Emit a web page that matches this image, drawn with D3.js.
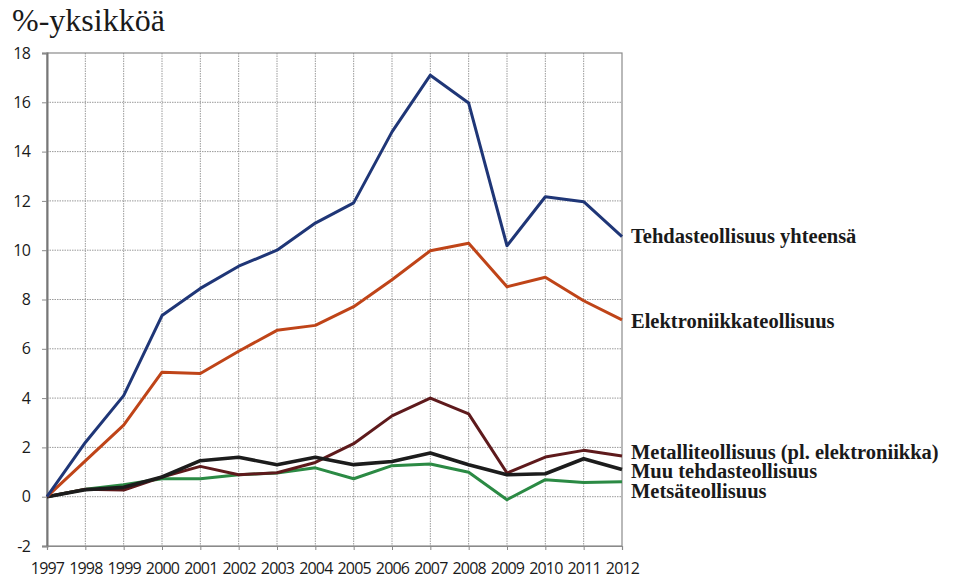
<!DOCTYPE html>
<html>
<head>
<meta charset="utf-8">
<script src="https://cdn.jsdelivr.net/npm/d3@7"></script>
<style>
  body { margin: 0; background: #fff; }
</style>
</head>
<body>
<div id="chart"></div>
<script>
const years = [1997, 1998, 1999, 2000, 2001, 2002, 2003, 2004, 2005, 2006, 2007, 2008, 2009, 2010, 2011, 2012];
const yTicks = [-2, 0, 2, 4, 6, 8, 10, 12, 14, 16, 18];

const tehdas = [0, 2.2, 4.1, 7.35, 8.45, 9.35, 10.0, 11.1, 11.92, 14.8, 17.1, 15.97, 10.18, 12.17, 11.97, 10.55];
const elektro = [0, 1.45, 2.9, 5.05, 5.0, 5.9, 6.75, 6.95, 7.71, 8.8, 9.98, 10.28, 8.52, 8.9, 7.95, 7.17];
const metalli = [0, 0.3, 0.27, 0.8, 1.23, 0.89, 0.97, 1.39, 2.15, 3.28, 4.0, 3.36, 0.96, 1.61, 1.88, 1.65];
const muu = [0, 0.28, 0.38, 0.8, 1.46, 1.6, 1.3, 1.6, 1.3, 1.43, 1.77, 1.3, 0.89, 0.93, 1.54, 1.1];
const metsa = [0, 0.3, 0.49, 0.73, 0.73, 0.89, 0.96, 1.17, 0.73, 1.26, 1.33, 0.99, -0.12, 0.69, 0.58, 0.61];

const seriesNames = ["Metsäteollisuus", "Metalliteollisuus (pl. elektroniikka)", "Muu tehdasteollisuus", "Elektroniikkateollisuus", "Tehdasteollisuus yhteensä"];
const seriesValues = [metsa, metalli, muu, elektro, tehdas];
const seriesColors = ["#2b8a44", "#5e1a1c", "#1c1c1c", "#bf4418", "#1f3677"];
const seriesWidths = [3, 3, 3.6, 3, 3];
const labelY = [490.5, 451.5, 471, 321, 236];

const width = 956, height = 578;
const margin = {top: 53, right: 334, bottom: 32, left: 47};

const svg = d3.select("#chart").append("svg")
  .attr("width", width)
  .attr("height", height);

const x = d3.scaleLinear().domain([1997, 2012]).range([margin.left, width - margin.right]);
const y = d3.scaleLinear().domain([-2, 18]).range([height - margin.bottom, margin.top]);

// dotted grid
svg.append("g")
  .selectAll("line")
  .data(years.slice(1, -1))
  .join("line")
  .attr("x1", d => x(d)).attr("x2", d => x(d))
  .attr("y1", y(18)).attr("y2", y(-2))
  .attr("stroke", "#9a9a9a")
  .attr("stroke-width", 1)
  .attr("stroke-dasharray", "1.5,1");

svg.append("g")
  .selectAll("line")
  .data(yTicks.slice(1, -1))
  .join("line")
  .attr("x1", x(1997)).attr("x2", x(2012))
  .attr("y1", d => y(d)).attr("y2", d => y(d))
  .attr("stroke", "#9a9a9a")
  .attr("stroke-width", 1)
  .attr("stroke-dasharray", "1.5,1");

// frame
svg.append("rect")
  .attr("x", x(1997)).attr("y", y(18))
  .attr("width", x(2012) - x(1997))
  .attr("height", y(-2) - y(18))
  .attr("fill", "none")
  .attr("stroke", "#8a8a8a")
  .attr("stroke-width", 1.2);

const tickFont = "'Open Sans', 'DejaVu Sans', sans-serif";

// axes
const yAxis = svg.append("g")
  .attr("transform", `translate(${x(1997)},0)`)
  .call(d3.axisLeft(y).tickValues(yTicks).tickFormat(d => String(d)).tickSize(5).tickPadding(12));
yAxis.select(".domain").attr("stroke", "#777").attr("stroke-width", 2);
yAxis.selectAll(".tick line").attr("stroke", "#8a8a8a");
yAxis.selectAll("text")
  .style("font-family", tickFont)
  .style("font-size", "16px")
  .style("letter-spacing", "-0.8px")
  .attr("fill", "#1a1a1a");

const xAxis = svg.append("g")
  .attr("transform", `translate(0,${y(-2)})`)
  .call(d3.axisBottom(x).tickValues(years).tickFormat(d3.format("d")).tickSize(4));
xAxis.select(".domain").attr("stroke", "#8a8a8a").attr("stroke-width", 1.2);
xAxis.selectAll(".tick line").attr("stroke", "#8a8a8a");
xAxis.selectAll("text")
  .attr("y", 28)
  .attr("dy", 0)
  .style("font-family", tickFont)
  .style("font-size", "16px")
  .style("letter-spacing", "-0.8px")
  .attr("fill", "#1a1a1a");

// lines
const line = d3.line()
  .x((d, i) => x(years[i]))
  .y(d => y(d));

svg.append("g")
  .selectAll("path")
  .data(seriesValues)
  .join("path")
  .attr("d", d => line(d))
  .attr("fill", "none")
  .attr("stroke", (d, i) => seriesColors[i])
  .attr("stroke-width", (d, i) => seriesWidths[i])
  .attr("stroke-linejoin", "round");

// series labels
svg.append("g")
  .selectAll("text")
  .data(seriesNames)
  .join("text")
  .attr("x", x(2012) + 9)
  .attr("y", (d, i) => labelY[i])
  .attr("dy", "0.35em")
  .style("font-family", "'Liberation Serif', 'Times New Roman', serif")
  .style("font-weight", "bold")
  .style("font-size", "20.5px")
  .attr("fill", "#1a1a1a")
  .text(d => d);

// unit title
svg.append("text")
  .attr("x", 12)
  .attr("y", 31)
  .style("font-family", "'Liberation Serif', 'Times New Roman', serif")
  .style("font-size", "32px")
  .attr("fill", "#1a1a1a")
  .text("%-yksikköä");
</script>
</body>
</html>
